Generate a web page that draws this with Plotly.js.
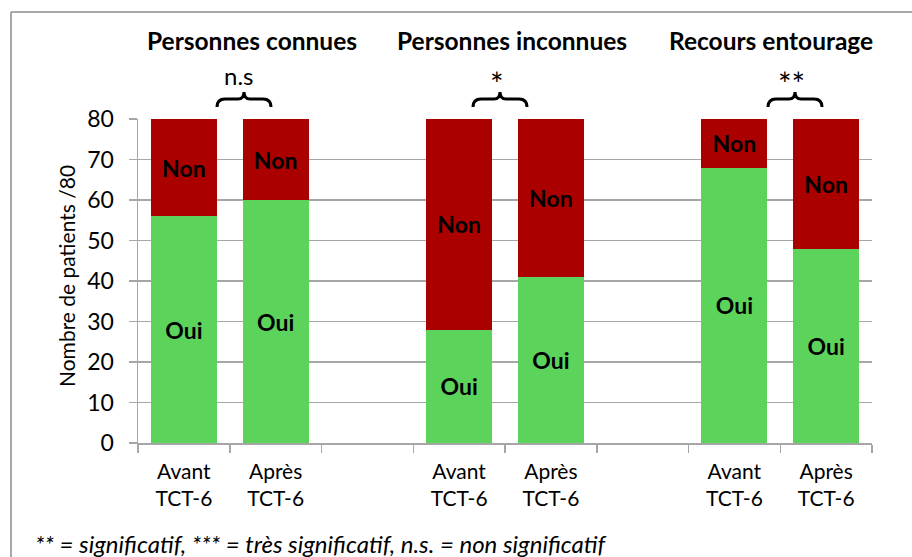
<!DOCTYPE html>
<html>
<head>
<meta charset="utf-8">
<script src="https://cdn.plot.ly/plotly-3.0.1.min.js"></script>
<style>html,body{margin:0;padding:0;background:#fff;}#chart{width:912px;height:557px;}</style>
</head>
<body>
<div id="chart"></div>
<script>
// ---- data ----
var slotIds = ["c0","c1","c2","c3","c4","c5","c6","c7"];
var slotLabels = ["Avant<br>TCT-6","Après<br>TCT-6","","Avant<br>TCT-6","Après<br>TCT-6","","Avant<br>TCT-6","Après<br>TCT-6"];
var groups = ["Personnes connues","Personnes inconnues","Recours entourage"];
var signif = ["n.s","*","**"];
var ouiValues = [56, 60, null, 28, 41, null, 68, 48];
var nonValues = [24, 20, null, 52, 39, null, 12, 32];
var ouiText = ["Oui","Oui","","Oui","Oui","","Oui","Oui"];
var nonText = ["Non","Non","","Non","Non","","Non","Non"];
var yTitle = "Nombre de patients /80";
var footer = "** = significatif, *** = très significatif, n.s. = non significatif";

// ---- layout helpers (pixel -> paper) ----
var W = 912, H = 557, ML = 138, MR = 40, MT = 119, MB = 114;
var PW = W - ML - MR, PH = H - MT - MB;
function px(x){ return (x - ML) / PW; }
function py(y){ return (H - MB - y) / PH; }

var FONT = "Lato, 'Liberation Sans', sans-serif";
var GREEN = "#5cd35a", RED = "#aa0000", GRID = "#a6a6a6";

var traces = [
  {type:"bar", name:"Oui", x:slotIds, y:ouiValues, text:ouiText, textposition:"inside",
   insidetextanchor:"middle", textangle:0, constraintext:"none",
   textfont:{family:FONT, size:23, color:"#000", weight:"bold"},
   marker:{color:GREEN}, width:0.72, hoverinfo:"none"},
  {type:"bar", name:"Non", x:slotIds, y:nonValues, text:nonText, textposition:"inside",
   insidetextanchor:"middle", textangle:0, constraintext:"none",
   textfont:{family:FONT, size:23, color:"#000", weight:"bold"},
   marker:{color:RED}, width:0.72, hoverinfo:"none"}
];

var titleX = [252, 512, 771];
var sigX = [238, 497, 791];
var sigY = [75, 84, 84];
var sigSize = [24, 32, 32];
var braceC = [244, 500, 795];

var annotations = [];
var shapes = [];
for (var i = 0; i < groups.length; i++) {
  annotations.push({xref:"paper", yref:"paper", x:px(titleX[i]), y:py(40), text:"<b>"+groups[i]+"</b>",
    showarrow:false, xanchor:"center", yanchor:"middle", font:{family:FONT, size:24.5, color:"#000"}});
  annotations.push({xref:"paper", yref:"paper", x:px(sigX[i]), y:py(sigY[i]), text:signif[i],
    showarrow:false, xanchor:"center", yanchor:"middle", font:{family:FONT, size:sigSize[i], color:"#000"}});
  var c = braceC[i], x0 = c - 27, x1 = c + 27, yb = 107, ym = 99, yt = 92;
  var p = "M "+px(x0)+","+py(yb)+" Q "+px(x0)+","+py(ym)+" "+px(x0+8)+","+py(ym)+
          " L "+px(c-6)+","+py(ym)+" Q "+px(c)+","+py(ym)+" "+px(c)+","+py(yt)+
          " Q "+px(c)+","+py(ym)+" "+px(c+6)+","+py(ym)+
          " L "+px(x1-8)+","+py(ym)+" Q "+px(x1)+","+py(ym)+" "+px(x1)+","+py(yb);
  shapes.push({type:"path", xref:"paper", yref:"paper", path:p, line:{color:"#000", width:3}});
}
annotations.push({xref:"paper", yref:"paper", x:px(33), y:py(543), text:"<i>"+footer+"</i>",
  showarrow:false, xanchor:"left", yanchor:"middle", font:{family:FONT, size:24, color:"#000"}});
annotations.push({xref:"paper", yref:"paper", x:px(66), y:py(276), text:yTitle, textangle:-90,
  showarrow:false, xanchor:"center", yanchor:"middle", font:{family:FONT, size:21, color:"#000"}});

// outer frame (top and left edges visible)
shapes.push({type:"line", xref:"paper", yref:"paper", x0:px(11), y0:py(12), x1:px(915), y1:py(12), line:{color:"#8c8c8c", width:1.5}});
shapes.push({type:"line", xref:"paper", yref:"paper", x0:px(11), y0:py(12), x1:px(11), y1:py(560), line:{color:"#8c8c8c", width:1.5}});

var layout = {
  width:W, height:H, barmode:"stack", showlegend:false,
  margin:{l:ML, r:MR, t:MT, b:MB, pad:0},
  paper_bgcolor:"#fff", plot_bgcolor:"#fff",
  font:{family:FONT, color:"#000"},
  xaxis:{type:"category", categoryorder:"array", categoryarray:slotIds, range:[-0.5,7.5],
    tickmode:"array", tickvals:slotIds, ticktext:slotLabels, tickson:"boundaries",
    ticks:"outside", ticklen:8, tickcolor:GRID, tickwidth:1.5, ticklabelstandoff:9,
    showline:true, linecolor:GRID, linewidth:1.5, showgrid:false,
    tickfont:{family:FONT, size:21, color:"#000"}, fixedrange:true},
  yaxis:{range:[0,80], dtick:10, tick0:0, showgrid:true, gridcolor:GRID, gridwidth:1.5,
    showline:true, linecolor:GRID, linewidth:1.5, ticks:"outside", ticklen:8, tickcolor:GRID, tickwidth:1.5,
    ticklabelstandoff:10, zeroline:false,
    tickfont:{family:FONT, size:23, color:"#000"}, fixedrange:true},
  annotations:annotations, shapes:shapes
};

Plotly.newPlot("chart", traces, layout, {displayModeBar:false, staticPlot:true});
</script>
</body>
</html>
